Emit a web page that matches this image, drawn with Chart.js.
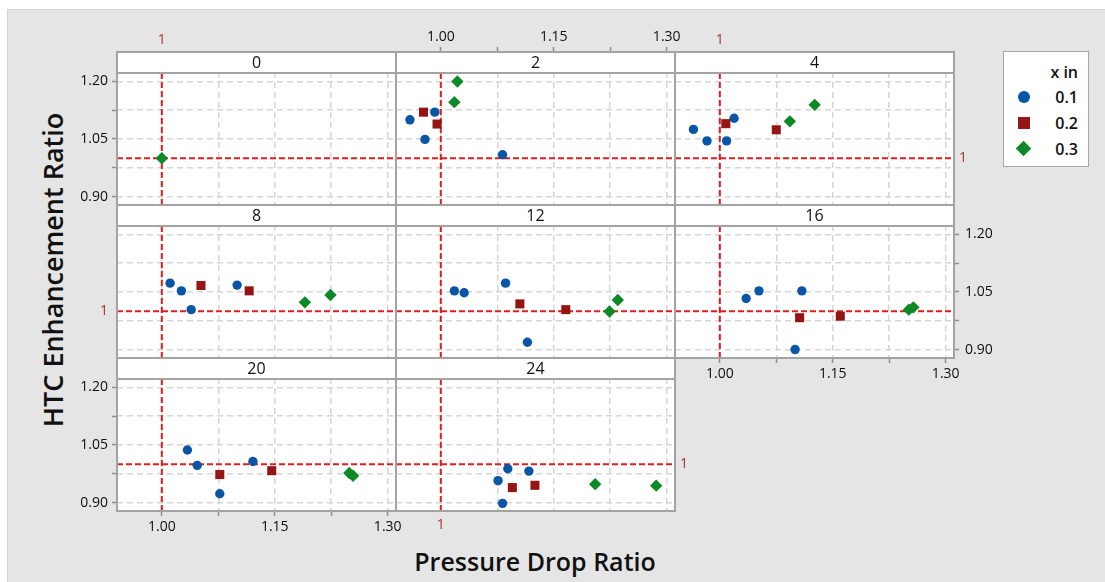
<!DOCTYPE html>
<html>
<head>
<meta charset="utf-8">
<script src="https://cdn.jsdelivr.net/npm/chart.js@4.4.1/dist/chart.umd.min.js"></script>
<style>
  body { margin: 0; width: 1105px; height: 582px; overflow: hidden; background: #fff; font-family: "Open Sans", sans-serif; }
  #bg { position: absolute; left: 7px; top: 9px; width: 1098px; height: 573px; background: #e5e5e5; border-left: 1px solid #d2d2d2; border-top: 1px solid #d2d2d2; }
  canvas { position: absolute; }
  #ytitle { position: absolute; left: 52px; top: 270px; transform: translate(-50%, -50%) rotate(-90deg); font-size: 27px; font-weight: 600; color: #111; white-space: nowrap; }
  #xtitle { position: absolute; left: 535px; top: 561px; transform: translate(-50%, -50%); font-size: 25px; font-weight: 600; color: #111; white-space: nowrap; }
  #legend { position: absolute; left: 1003px; top: 51px; width: 86px; height: 116px; background: #fff; border: 1px solid #a6a6a6; box-sizing: border-box; }
  .lt { position: absolute; right: 10px; font-size: 16px; font-weight: 600; color: #111; line-height: 20px; }
  .mk { position: absolute; }
</style>
</head>
<body>
<div id="bg"></div>
<div id="ytitle">HTC Enhancement Ratio</div>
<div id="xtitle">Pressure Drop Ratio</div>
<div id="legend"></div>
<script>
// panels: number of fins
const finCounts = [0, 2, 4, 8, 12, 16, 20, 24];

// x in = 0.1
const s1Panel = [2, 2, 2, 2, 4, 4, 4, 4, 8, 8, 8, 8, 12, 12, 12, 12, 16, 16, 16, 16, 20, 20, 20, 20, 24, 24, 24, 24];
const s1Pdr = [0.959, 0.992, 0.979, 1.082, 0.965, 0.983, 1.009, 1.019, 1.011, 1.026, 1.039, 1.100, 1.018, 1.031, 1.086, 1.115,
  1.035, 1.052, 1.109, 1.100, 1.034, 1.047, 1.077, 1.121, 1.089, 1.117, 1.076, 1.082];
const s1Htc = [1.100, 1.120, 1.049, 1.009, 1.075, 1.045, 1.045, 1.104, 1.073, 1.053, 1.004, 1.068, 1.053, 1.048, 1.073, 0.919,
  1.033, 1.053, 1.053, 0.900, 1.037, 0.997, 0.923, 1.007, 0.988, 0.982, 0.957, 0.898];

// x in = 0.2
const s2Panel = [2, 2, 4, 4, 8, 8, 12, 12, 16, 16, 20, 20, 24, 24];
const s2Pdr = [0.977, 0.995, 1.008, 1.075, 1.052, 1.116, 1.105, 1.166, 1.106, 1.160, 1.077, 1.146, 1.095, 1.125];
const s2Htc = [1.120, 1.089, 1.090, 1.074, 1.067, 1.053, 1.019, 1.004, 0.983, 0.987, 0.973, 0.983, 0.939, 0.945];

// x in = 0.3
const s3Panel = [0, 2, 2, 4, 4, 8, 8, 12, 12, 16, 16, 20, 20, 24, 24];
const s3Pdr = [1.000, 1.022, 1.018, 1.093, 1.126, 1.190, 1.224, 1.224, 1.235, 1.251, 1.257, 1.249, 1.254, 1.205, 1.286];
const s3Htc = [1.000, 1.200, 1.146, 1.096, 1.139, 1.023, 1.042, 0.999, 1.029, 1.004, 1.010, 0.977, 0.970, 0.948, 0.944];

const seriesNames = ['0.1', '0.2', '0.3'];

// axis ticks
const xTicks = [1.00, 1.075, 1.15, 1.225, 1.30];
const xTickLabels = ['1.00', '', '1.15', '', '1.30'];
const yTicks = [0.90, 0.975, 1.05, 1.125, 1.20];
const yTickLabels = ['0.90', '', '1.05', '', '1.20'];
const refValue = 1;

// ---- layout ----
const W = 279, H = 153, HEAD = 21, MX = 60, MY = 40;
const colLeft = [117, 396, 675];
const rowTop = [52, 205, 358];
const xMin = 0.9405, xMax = 1.311;
const yMin = 0.878, yPlotMax = 1.222;
const yMax = yPlotMax + HEAD * (yPlotMax - yMin) / (H - HEAD);

const BLUE = '#0a56a6', RED = '#951515', GREEN = '#0b8a25';
const REFRED = '#e11d1d', REFTEXT = '#a6332d', TXT = '#0e0e0e';
const FONT = '"Open Sans", sans-serif';

Chart.defaults.font.family = FONT;

const markers = [
  { color: BLUE, style: 'circle', radius: 4.7 },
  { color: RED, style: 'rect', radius: 6.4 },
  { color: GREEN, style: 'rectRot', radius: 6.2 }
];

function pick(panels, xs, ys, fin) {
  const out = [];
  panels.forEach((p, i) => { if (p === fin) out.push({ x: xs[i], y: ys[i] }); });
  return out;
}

// header strip, white plot area and panel frame
const panelBox = {
  id: 'panelBox',
  beforeDraw(chart) {
    const { ctx, chartArea: a } = chart;
    ctx.save();
    ctx.fillStyle = '#fff';
    ctx.fillRect(a.left, a.top, a.right - a.left, a.bottom - a.top);
    ctx.restore();
  },
  beforeDatasetsDraw(chart) {
    const { ctx, chartArea: a } = chart;
    ctx.save();
    ctx.fillStyle = '#fff';
    ctx.fillRect(a.left, a.top, a.right - a.left, HEAD);
    ctx.restore();
  },
  afterDraw(chart, args, opts) {
    const { ctx, chartArea: a } = chart;
    ctx.save();
    ctx.strokeStyle = '#a3a3a3';
    ctx.lineWidth = 2;
    ctx.strokeRect(a.left, a.top, a.right - a.left, a.bottom - a.top);
    ctx.beginPath();
    ctx.moveTo(a.left, a.top + HEAD);
    ctx.lineTo(a.right, a.top + HEAD);
    ctx.stroke();
    ctx.fillStyle = '#111';
    ctx.font = '16px ' + FONT;
    ctx.textAlign = 'center';
    ctx.textBaseline = 'middle';
    ctx.fillText(opts.label, (a.left + a.right) / 2, a.top + HEAD / 2 + 1);
    ctx.restore();
  }
};

function labelScale(axis, position, mode, pad) {
  const isX = axis === 'x';
  const ticks = isX ? xTicks : yTicks;
  const labels = isX ? xTickLabels : yTickLabels;
  return {
    type: 'linear', axis: axis, position: position,
    min: isX ? xMin : yMin, max: isX ? xMax : yMax,
    afterBuildTicks: s => {
      const vals = mode === 'ref' ? [refValue] : ticks;
      s.ticks = vals.map(v => ({ value: v }));
    },
    afterFit: s => { if (isX) s.height = MY; else s.width = MX; },
    grid: { display: mode === 'ticks', drawOnChartArea: false, drawTicks: mode === 'ticks', tickLength: 5, tickColor: '#8e8e8e', tickWidth: 1.5 },
    border: { display: false },
    ticks: {
      display: mode !== 'none',
      autoSkip: false, maxRotation: 0,
      padding: pad,
      color: mode === 'ref' ? REFTEXT : TXT,
      font: { size: 14 },
      callback: (v, i) => mode === 'ref' ? String(refValue) : labels[i]
    }
  };
}

finCounts.forEach((fin, idx) => {
  const row = Math.floor(idx / 3), col = idx % 3;

  const topMode = row === 0 ? (col === 1 ? 'ticks' : 'ref') : 'none';
  let bottomMode = 'none';
  if ((row === 2 && col === 0) || (row === 1 && col === 2)) bottomMode = 'ticks';
  if (row === 2 && col === 1) bottomMode = 'ref';
  const leftMode = col === 0 ? (row === 1 ? 'ref' : 'ticks') : 'none';
  let rightMode = 'none';
  if ((row === 0 && col === 2) || (row === 2 && col === 1)) rightMode = 'ref';
  if (row === 1 && col === 2) rightMode = 'ticks';

  const cv = document.createElement('canvas');
  cv.width = W + 2 * MX;
  cv.height = H + 2 * MY;
  cv.style.left = (colLeft[col] - MX) + 'px';
  cv.style.top = (rowTop[row] - MY) + 'px';
  document.body.appendChild(cv);

  const datasets = [
    { type: 'line', data: [{ x: refValue, y: yMin }, { x: refValue, y: yPlotMax }], borderColor: REFRED, borderWidth: 2, borderDash: [6, 3], pointRadius: 0, order: 10 },
    { type: 'line', data: [{ x: xMin, y: refValue }, { x: xMax, y: refValue }], borderColor: REFRED, borderWidth: 2, borderDash: [6, 3], pointRadius: 0, order: 10 }
  ];
  const series = [
    pick(s1Panel, s1Pdr, s1Htc, fin),
    pick(s2Panel, s2Pdr, s2Htc, fin),
    pick(s3Panel, s3Pdr, s3Htc, fin)
  ];
  series.forEach((pts, k) => {
    datasets.push({
      label: seriesNames[k], data: pts,
      pointStyle: markers[k].style, pointRadius: markers[k].radius,
      backgroundColor: markers[k].color, borderColor: markers[k].color, borderWidth: 0,
      order: 3 - k
    });
  });

  new Chart(cv, {
    type: 'scatter',
    data: { datasets: datasets },
    plugins: [panelBox],
    options: {
      responsive: false, animation: false, events: [],
      layout: { padding: 0 },
      plugins: { legend: { display: false }, tooltip: { enabled: false }, panelBox: { label: String(fin) } },
      scales: {
        x: {
          type: 'linear', min: xMin, max: xMax,
          afterBuildTicks: s => { s.ticks = xTicks.map(v => ({ value: v })); },
          afterFit: s => { s.height = 0; },
          grid: { color: '#d6d6d6', lineWidth: 1.5, drawTicks: false },
          border: { display: false, dash: [6, 4] },
          ticks: { display: false }
        },
        y: {
          type: 'linear', min: yMin, max: yMax,
          afterBuildTicks: s => { s.ticks = yTicks.map(v => ({ value: v })); },
          afterFit: s => { s.width = 0; },
          grid: { color: '#d6d6d6', lineWidth: 1.5, drawTicks: false },
          border: { display: false, dash: [6, 4] },
          ticks: { display: false }
        },
        xb: labelScale('x', 'bottom', bottomMode, bottomMode === 'ref' ? 6 : 3),
        xt: labelScale('x', 'top', topMode, topMode === 'ref' ? 4 : 2),
        yl: labelScale('y', 'left', leftMode, leftMode === 'ref' ? 9 : 4),
        yr: labelScale('y', 'right', rightMode, rightMode === 'ref' ? 5 : 6)
      }
    }
  });
});

// legend
const legend = document.getElementById('legend');
const title = document.createElement('div');
title.className = 'lt';
title.style.top = '10px';
title.textContent = 'x in';
legend.appendChild(title);
const legendShapes = [
  'left:14px;width:12px;height:12px;border-radius:50%;background:' + BLUE,
  'left:14px;width:12px;height:12px;background:' + RED,
  'left:14px;width:11px;height:11px;transform:rotate(45deg);background:' + GREEN
];
seriesNames.forEach((name, k) => {
  const cy = 45 + k * 26;
  const m = document.createElement('div');
  m.className = 'mk';
  m.style.cssText = legendShapes[k] + ';top:' + (cy - 6) + 'px';
  legend.appendChild(m);
  const t = document.createElement('div');
  t.className = 'lt';
  t.style.top = (cy - 10) + 'px';
  t.textContent = name;
  legend.appendChild(t);
});
</script>
</body>
</html>
